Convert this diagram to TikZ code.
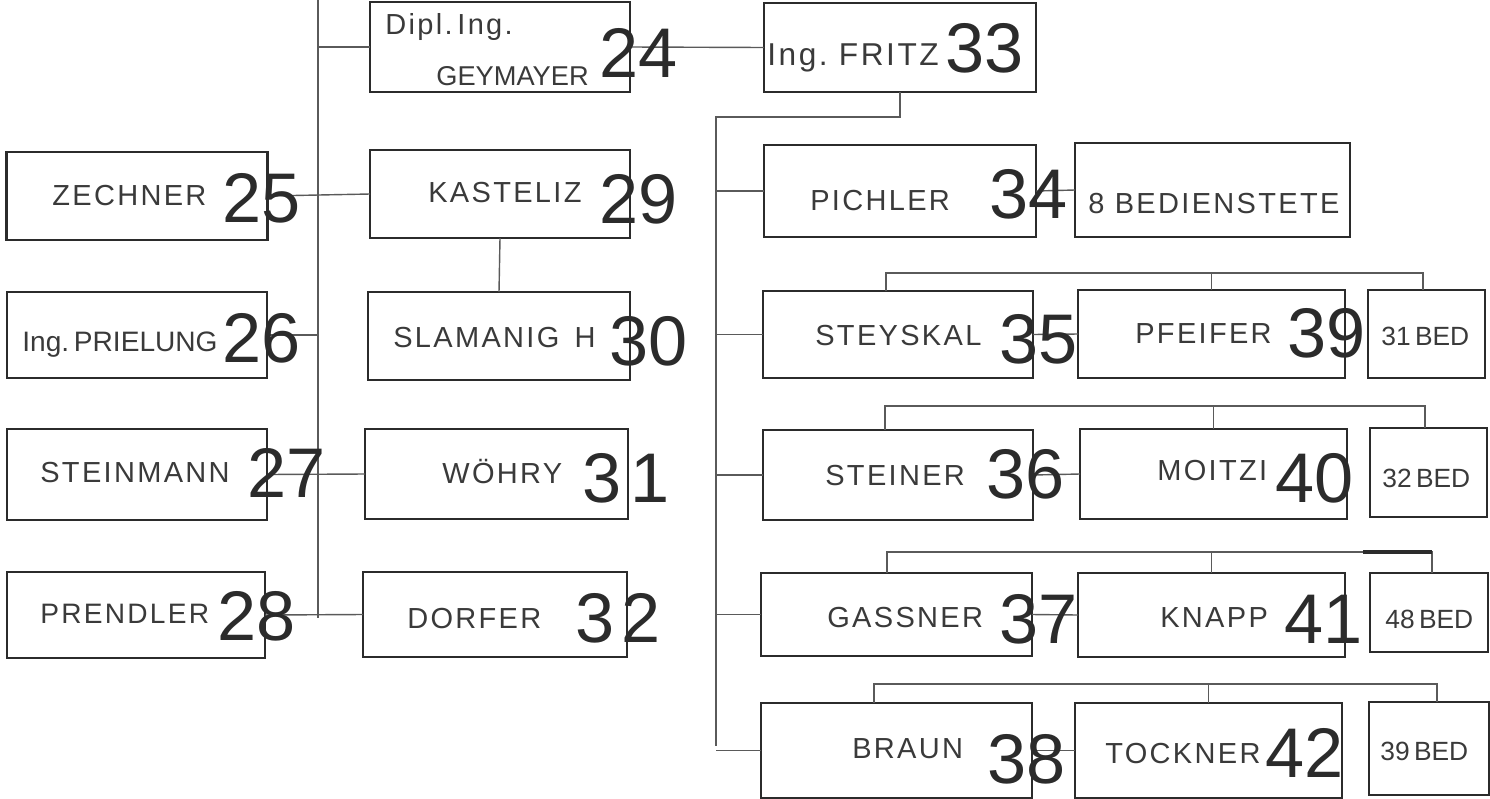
\documentclass[tikz,border=0pt]{standalone}
\usepackage{fontspec}
\setmainfont{Liberation Sans}
\newfontfamily\lab{Liberation Sans}[LetterSpace=8]
\newfontfamily\labn{Liberation Sans}
\definecolor{ink}{HTML}{2B2B2B}
\definecolor{txt}{HTML}{3A3A3A}
\definecolor{wire}{HTML}{5A5A5A}
\begin{document}
\begin{tikzpicture}[x=0.02cm,y=-0.02cm,
  bx/.style 2 args={draw=ink, line width=1.6pt, minimum width=#1*0.02cm, minimum height=#2*0.02cm, inner sep=0pt, outer sep=0pt},
  lbl/.style={anchor=base west, inner sep=0pt, text=txt, font=\lab\fontsize{16.5}{16.5}\selectfont},
  num/.style={anchor=base west, inner sep=0pt, text=ink, font=\labn\fontsize{40}{40}\selectfont},
  wr/.style={draw=wire, line width=0.8pt}]
\useasboundingbox (0,0) rectangle (1490,798);
% ---- boxes
\node[bx={260}{90}] (n24) at (500,47) {};
\node[bx={272}{89}] (n33) at (900,47.5) {};
\node[bx={261}{88}] (n25) at (137,196) {};
\node[bx={260}{86}] (n26) at (137,335) {};
\node[bx={260}{91}] (n27) at (137,474.5) {};
\node[bx={258}{86}] (n28) at (136,615) {};
\node[bx={260}{88}] (n29) at (500,194) {};
\node[bx={262}{88}] (n30) at (499,336) {};
\node[bx={263}{90}] (n31) at (496.5,474) {};
\node[bx={264}{85}] (n32) at (495,614.5) {};
\node[bx={272}{92}] (n34) at (900,191) {};
\node[bx={275}{94}] (bed8) at (1212.5,190) {};
\node[bx={270}{87}] (n35) at (898,334.5) {};
\node[bx={267}{88}] (n39) at (1211.5,334) {};
\node[bx={117}{88}] (bed31) at (1426.5,334) {};
\node[bx={270}{90}] (n36) at (898,475) {};
\node[bx={267}{90}] (n40) at (1213.5,474) {};
\node[bx={117}{89}] (bed32) at (1428.5,472.5) {};
\node[bx={271}{83}] (n37) at (896.5,614.5) {};
\node[bx={267}{84}] (n41) at (1211.5,615) {};
\node[bx={118}{79}] (bed48) at (1429,612.5) {};
\node[bx={271}{95}] (n38) at (896.5,750.5) {};
\node[bx={267}{95}] (n42) at (1208.5,750.5) {};
\node[bx={120}{93}] (bed39) at (1429,748.5) {};
% ---- connectors, left part
\coordinate (tkTop) at (318,0);
\coordinate (tkBot) at (318,618);
\draw[wr] (tkTop) -- (tkBot);
\draw[wr] (n24.west) -- (n24.west -| tkTop);
\draw[wr] (n25.east) -- (n29.west);
\draw[wr] (n26.east) -- (n26.east -| tkTop);
\draw[wr] (n27.east) -- (n31.west);
\draw[wr] (n28.east) -- (n32.west);
\draw[wr] (n29.south) -- (n30.north);
\draw[wr] (n24.east) -- (n33.west);
% ---- connectors, right part
\coordinate (rtTop) at (716,117);
\coordinate (rtBot) at (716,746);
\draw[wr] (n33.south) |- (rtTop) -- (rtBot);
\foreach \b in {n34,n35,n36,n37,n38}{\draw[wr] (\b.west) -- (\b.west -| rtTop);}
\draw[wr] (n34.east) -- (bed8.west);
\draw[wr] (n35.east) -- (n39.west);
\draw[wr] (n36.east) -- (n40.west);
\draw[wr] (n37.east) -- (n41.west);
\draw[wr] (n38.east) -- (n42.west);
% ---- brackets over rows
\coordinate (b35L) at (886,273); \coordinate (b35R) at (1423,273);
\draw[wr] (b35L |- n35.north) -- (b35L) -- (b35R) -- (b35R |- bed31.north);
\draw[wr] (n39.north) -- (n39.north |- b35L);
\coordinate (b36L) at (885,406); \coordinate (b36R) at (1425,406);
\draw[wr] (b36L |- n36.north) -- (b36L) -- (b36R) -- (b36R |- bed32.north);
\draw[wr] (n40.north) -- (n40.north |- b36L);
\coordinate (b37L) at (887,552); \coordinate (b37R) at (1432,552);
\draw[wr] (b37L |- n37.north) -- (b37L) -- (b37R) -- (b37R |- bed48.north);
\draw[wr] (n41.north) -- (n41.north |- b37L);
\draw[draw=ink, line width=1.8pt] (1363,552) -- (b37R);
\coordinate (b38L) at (874,684); \coordinate (b38R) at (1437,684);
\draw[wr] (b38L |- n38.north) -- (b38L) -- (b38R) -- (b38R |- bed39.north);
\draw[wr] (n42.north) -- (n42.north |- b38L);
% ---- labels
\node[lbl] (t24a) at (385,34) {Dipl.\,Ing.};
\node[lbl, font=\labn\fontsize{15.5}{15.5}\selectfont] (t24b) at (436,85) {GEYMAYER};
\node[lbl, font=\lab\fontsize{18}{18}\selectfont] (t33) at (767,65) {Ing.\ FRITZ};
\node[lbl] (t25) at (52,205) {ZECHNER};
\node[lbl, font=\labn\fontsize{16}{16}\selectfont] (t26) at (22,351) {Ing.\,PRIELUNG};
\node[lbl] (t27) at (40,482) {STEINMANN};
\node[lbl, font=\lab\fontsize{16}{16}\selectfont] (t28) at (40,623) {PRENDLER};
\node[lbl] (t29) at (428,202) {KASTELIZ};
\node[lbl] (t30) at (393,347) {SLAMANIG\ \,H};
\node[lbl] (t31) at (442,483) {WÖHRY};
\node[lbl] (t32) at (407,628) {DORFER};
\node[lbl] (t34) at (810,210) {PICHLER};
\node[lbl] (tb8) at (1088,213) {8 BEDIENSTETE};
\node[lbl] (t35) at (815,345) {STEYSKAL};
\node[lbl] (t39) at (1135,343) {PFEIFER};
\node[lbl, font=\labn\fontsize{15}{15}\selectfont] (tb31) at (1381,345) {31\,BED};
\node[lbl] (t36) at (825,485) {STEINER};
\node[lbl] (t40) at (1157,480) {MOITZI};
\node[lbl, font=\labn\fontsize{15}{15}\selectfont] (tb32) at (1382,487) {32\,BED};
\node[lbl] (t37) at (827,627) {GASSNER};
\node[lbl] (t41) at (1160,627) {KNAPP};
\node[lbl, font=\labn\fontsize{15}{15}\selectfont] (tb48) at (1385,628) {48\,BED};
\node[lbl] (t38) at (852,758) {BRAUN};
\node[lbl] (t42) at (1105,763) {TOCKNER};
\node[lbl, font=\labn\fontsize{15}{15}\selectfont] (tb39) at (1380,760) {39\,BED};
% ---- numbers
\node[num] (d24) at (599,77) {24};
\node[num] (d33) at (945,72) {33};
\node[num] (d25) at (222,222) {25};
\node[num] (d26) at (222,362) {26};
\node[num] (d27) at (247,497) {27};
\node[num] (d28) at (217,640) {28};
\node[num] (d29) at (599,223) {29};
\node[num] (d30) at (609,365) {30};
\node[num] (d31) at (582,502) {3\kern5pt1};
\node[num] (d32) at (575,642) {3\kern4pt2};
\node[num] (d34) at (989,218) {34};
\node[num] (d35) at (999,363) {35};
\node[num] (d36) at (986,498) {36};
\node[num] (d37) at (999,643) {37};
\node[num] (d38) at (987,783) {38};
\node[num] (d39) at (1287,357) {39};
\node[num] (d40) at (1275,502) {40};
\node[num] (d41) at (1284,643) {41};
\node[num] (d42) at (1265,777) {42};
\end{tikzpicture}
\end{document}
